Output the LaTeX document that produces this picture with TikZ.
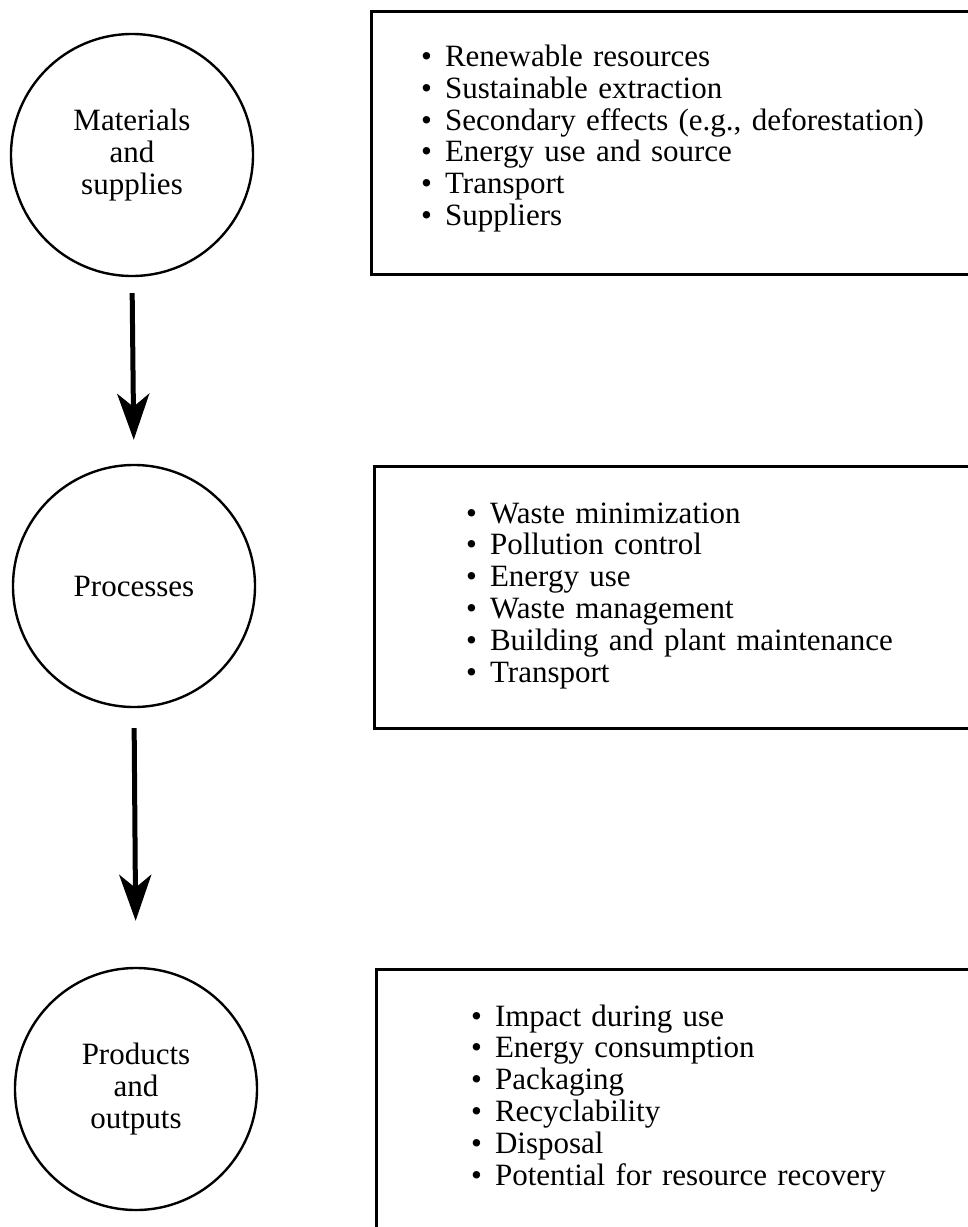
\documentclass[tikz,border=0pt]{standalone}
\usepackage{fontspec}
\setmainfont{Liberation Serif}
\usetikzlibrary{arrows.meta}
\newcommand\bul{\textbullet\hspace{0.42em}}
\begin{document}
\begin{tikzpicture}[x=1pt,y=-1pt,
  textfont/.style={font=\fontsize{31}{31.8}\selectfont},
  stage/.style={circle, draw, line width=2.4pt, minimum size=242pt, inner sep=0pt,
                align=center, textfont},
  listbox/.style={rectangle, draw, line width=2.8pt, anchor=north west, inner sep=0pt},
  listtext/.style={anchor=base west, text width=560pt, align=left, inner sep=0pt, textfont},
  flow/.style={line width=5pt, -{Stealth[length=46pt, width=32pt, inset=13pt]}}]
\path[use as bounding box] (0,0) rectangle (968,1227);
\clip (0,0) rectangle (968,1227);

% stages on the left
\node[stage] (c1) at (132,155) {Materials\\and\\supplies};
\node[stage] (c2) at (134,586) {Processes};
\node[stage] (c3) at (136,1089) {Products\\and\\outputs};

% flow between stages
\draw[flow, shorten <=16pt, shorten >=24pt] (c1.south) -- (c2.north);
\draw[flow, shorten <=20pt, shorten >=46pt] (c2.south) -- (c3.north);

% boxes on the right (open past the page edge)
\node[listbox, minimum width=620pt, minimum height=263pt] (b1) at (370,10) {};
\node[listbox, minimum width=620pt, minimum height=262pt] (b2) at (373,465) {};
\node[listbox, minimum width=620pt, minimum height=270pt] (b3) at (375,968) {};

% checklists
\node[listtext] (l1) at (421,66.5) {\bul Renewable resources\\
\bul Sustainable extraction\\
\bul Secondary effects (e.g., deforestation)\\
\bul Energy use and source\\
\bul Transport\\
\bul Suppliers};

\node[listtext] (l2) at (466,523) {\bul Waste minimization\\
\bul Pollution control\\
\bul Energy use\\
\bul Waste management\\
\bul Building and plant maintenance\\
\bul Transport};

\node[listtext] (l3) at (471,1026) {\bul Impact during use\\
\bul Energy consumption\\
\bul Packaging\\
\bul Recyclability\\
\bul Disposal\\
\bul Potential for resource recovery};
\end{tikzpicture}
\end{document}
